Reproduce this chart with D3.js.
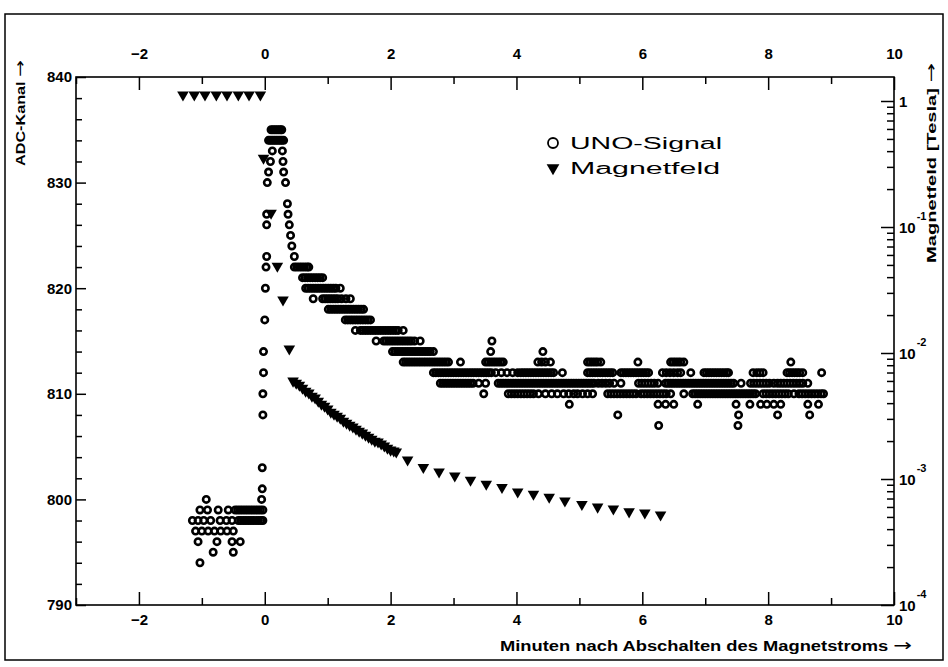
<!DOCTYPE html>
<html>
<head>
<meta charset="utf-8">
<script src="https://cdn.jsdelivr.net/npm/d3@7"></script>
<style>
  body { margin: 0; background: #fff; }
  text { font-family: "Liberation Sans", Arial, sans-serif; fill: #000; }
  .axis text { font-size: 15px; font-weight: bold; }
  .axis line { stroke: #000; stroke-width: 1.5; }
  .arrow { font-family: "DejaVu Sans", sans-serif; font-weight: normal; }
</style>
</head>
<body>
<div id="chart"></div>
<script>
// Data

var timeTicks = [-2, 0, 2, 4, 6, 8, 10];
var adcTicks = [790, 800, 810, 820, 830, 840];
var teslaTicks = [1e-4, 1e-3, 1e-2, 1e-1, 1];
var teslaExp = ["-4", "-3", "-2", "-1", ""];

// UNO-Signal: ADC channel -> times (minutes) at which that channel was read
var unoRows = [
  [835, [0.10, 0.13, 0.16, 0.19, 0.22, 0.25, 0.27]],
  [834, [0.06, 0.09, 0.12, 0.15, 0.18, 0.21, 0.24, 0.27, 0.30]],
  [833, [0.12, 0.28]],
  [832, [0.09, 0.29]],
  [831, [0.06, 0.30]],
  [830, [0.04, 0.33]],
  [828, [0.36]],
  [827, [0.03, 0.37]],
  [826, [0.03, 0.39]],
  [825, [0.41]],
  [824, [0.43]],
  [823, [0.03, 0.47]],
  [822, [0.02, 0.47, 0.51, 0.55, 0.59, 0.63, 0.67, 0.70]],
  [821, [0.60, 0.64, 0.68, 0.72, 0.76, 0.80, 0.84, 0.88, 0.92]],
  [820, [0.01, 0.65, 0.69, 0.73, 0.77, 0.81, 0.85, 0.89, 0.93, 0.97, 1.01, 1.05, 1.09, 1.13, 1.20]],
  [819, [0.77, 0.92, 0.96, 1.00, 1.04, 1.08, 1.12, 1.16, 1.22, 1.29, 1.36]],
  [818, [1.01, 1.05, 1.09, 1.13, 1.17, 1.21, 1.25, 1.29, 1.33, 1.37, 1.41, 1.45, 1.49, 1.53, 1.57]],
  [817, [0.00, 1.28, 1.32, 1.36, 1.40, 1.44, 1.48, 1.52, 1.56, 1.60, 1.64, 1.68]],
  [816, [1.44, 1.52, 1.56, 1.60, 1.64, 1.68, 1.72, 1.76, 1.80, 1.84, 1.88, 1.92, 1.96, 2.00,
         2.04, 2.08, 2.12, 2.20]],
  [815, [1.77, 1.89, 1.93, 1.97, 2.01, 2.05, 2.09, 2.13, 2.17, 2.21, 2.25, 2.29, 2.33, 2.38,
         2.47, 3.61]],
  [814, [-0.02, 2.03, 2.07, 2.11, 2.15, 2.19, 2.23, 2.27, 2.31, 2.35, 2.39, 2.43, 2.47, 2.51,
         2.55, 2.59, 2.63, 2.68, 3.59, 4.42]],
  [813, [2.20, 2.24, 2.28, 2.32, 2.36, 2.40, 2.44, 2.48, 2.52, 2.56, 2.60, 2.64, 2.68, 2.72,
         2.76, 2.80, 2.84, 2.88, 2.92, 3.11, 3.51, 3.55, 3.59, 3.63, 3.67, 3.71, 3.75, 3.79,
         4.34, 4.40, 4.46, 4.54, 5.13, 5.17, 5.21, 5.25, 5.29, 5.34, 5.93, 6.45, 6.49, 6.53,
         6.57, 6.61, 6.66, 8.36]],
  [812, [-0.02, 2.68, 2.72, 2.76, 2.80, 2.84, 2.88, 2.92, 2.96, 3.00, 3.04, 3.08, 3.12, 3.16,
         3.20, 3.24, 3.28, 3.32, 3.36, 3.40, 3.44, 3.48, 3.52, 3.56, 3.60, 3.67, 3.76, 3.85,
         3.94, 4.02, 4.07, 4.11, 4.15, 4.19, 4.23, 4.27, 4.31, 4.35, 4.39, 4.43, 4.47, 4.51,
         4.55, 4.59, 4.73, 5.13, 5.17, 5.21, 5.25, 5.29, 5.33, 5.37, 5.41, 5.45, 5.49, 5.53,
         5.66, 5.70, 5.74, 5.78, 5.82, 5.86, 5.90, 5.94, 5.98, 6.02, 6.06, 6.10, 6.32, 6.38,
         6.44, 6.50, 6.56, 6.61, 6.77, 6.98, 7.02, 7.06, 7.10, 7.14, 7.18, 7.22, 7.26, 7.30,
         7.34, 7.37, 7.76, 7.82, 7.87, 7.92, 8.30, 8.34, 8.38, 8.42, 8.46, 8.50, 8.55, 8.85]],
  [811, [2.79, 2.83, 2.87, 2.91, 2.95, 2.99, 3.03, 3.07, 3.11, 3.15, 3.19, 3.23, 3.27, 3.31,
         3.40, 3.51, 3.71, 3.75, 3.79, 3.83, 3.87, 3.91, 3.95, 3.99, 4.03, 4.07, 4.11, 4.15,
         4.19, 4.23, 4.27, 4.31, 4.35, 4.39, 4.43, 4.47, 4.51, 4.55, 4.59, 4.63, 4.67, 4.71,
         4.75, 4.79, 4.83, 4.87, 4.91, 4.95, 4.99, 5.03, 5.07, 5.11, 5.15, 5.19, 5.23, 5.30,
         5.36, 5.42, 5.48, 5.55, 5.66, 5.94, 5.99, 6.04, 6.09, 6.14, 6.19, 6.25, 6.37, 6.41,
         6.45, 6.49, 6.53, 6.57, 6.61, 6.65, 6.69, 6.73, 6.77, 6.81, 6.85, 6.89, 6.93, 6.97,
         7.01, 7.05, 7.09, 7.13, 7.17, 7.21, 7.25, 7.29, 7.33, 7.37, 7.41, 7.45, 7.57, 7.72,
         7.77, 7.82, 7.87, 7.92, 7.97, 8.02, 8.09, 8.15, 8.20, 8.25, 8.30, 8.35, 8.40, 8.45,
         8.50, 8.55, 8.63]],
  [810, [-0.03, 3.48, 3.87, 3.92, 3.97, 4.02, 4.07, 4.12, 4.17, 4.22, 4.27, 4.35, 4.46, 4.56,
         4.65, 4.75, 4.83, 4.91, 4.97, 5.05, 5.13, 5.21, 5.45, 5.50, 5.55, 5.60, 5.65, 5.70,
         5.75, 5.80, 5.85, 5.90, 5.98, 6.03, 6.08, 6.13, 6.18, 6.23, 6.28, 6.33, 6.38, 6.45,
         6.66, 6.80, 6.84, 6.88, 6.92, 6.96, 7.00, 7.04, 7.08, 7.12, 7.16, 7.20, 7.24, 7.28,
         7.32, 7.36, 7.40, 7.44, 7.48, 7.52, 7.56, 7.60, 7.64, 7.68, 7.72, 7.76, 7.80, 7.92,
         7.97, 8.02, 8.07, 8.12, 8.17, 8.22, 8.27, 8.32, 8.41, 8.49, 8.54, 8.59, 8.64, 8.69,
         8.74, 8.79, 8.84, 8.88]],
  [809, [4.84, 6.25, 6.37, 6.50, 6.88, 7.49, 7.71, 7.88, 7.98, 8.09, 8.20, 8.63, 8.80]],
  [808, [-0.03, 5.61, 7.53, 8.15, 8.66]],
  [807, [6.26, 7.52]],
  [803, [-0.04]],
  [801, [-0.04]],
  [800, [-0.93, -0.05]],
  [799, [-1.03, -0.91, -0.74, -0.58, -0.47, -0.43, -0.39, -0.35, -0.31, -0.27, -0.23, -0.19,
         -0.15, -0.11, -0.07, -0.03]],
  [798, [-1.15, -1.06, -0.97, -0.86, -0.71, -0.61, -0.52, -0.42, -0.38, -0.34, -0.30, -0.26,
         -0.22, -0.18, -0.14, -0.10, -0.06, -0.03]],
  [797, [-1.10, -1.00, -0.90, -0.80, -0.70, -0.60, -0.50]],
  [796, [-1.06, -0.76, -0.52, -0.39]],
  [795, [-0.82, -0.50]],
  [794, [-1.03]]
];

// Magnetfeld (Tesla) against time (minutes)
var fieldTime = [-1.30, -1.12, -0.95, -0.77, -0.60, -0.42, -0.25, -0.07,
  -0.02, 0.10, 0.20, 0.29, 0.39,
  0.45, 0.50, 0.55, 0.60, 0.65, 0.70, 0.75, 0.80, 0.85, 0.90, 0.95, 1.00,
  1.05, 1.10, 1.15, 1.20, 1.25, 1.30, 1.35, 1.40, 1.45, 1.50, 1.55, 1.60,
  1.65, 1.70, 1.75, 1.80, 1.85, 1.90, 1.95, 2.00, 2.05, 2.09,
  2.27, 2.52, 2.77, 3.02, 3.27, 3.52, 3.77, 4.02, 4.27, 4.52, 4.77, 5.04,
  5.29, 5.54, 5.79, 6.04, 6.29];
var fieldTesla = [1.12, 1.12, 1.12, 1.12, 1.12, 1.12, 1.12, 1.12,
  0.353, 0.129, 0.049, 0.0264, 0.0108,
  0.00600, 0.00578, 0.00557, 0.00527, 0.00499, 0.00482, 0.00456, 0.00440, 0.00416, 0.00394, 0.00379, 0.00360,
  0.00340, 0.00328, 0.00316, 0.00305, 0.00288, 0.00278, 0.00268, 0.00259, 0.00249, 0.00240, 0.00232, 0.00223,
  0.00215, 0.00207, 0.00200, 0.00197, 0.00190, 0.00183, 0.00176, 0.00170, 0.00167, 0.00164,
  0.00142, 0.00124, 0.00114, 0.00106, 0.00098, 0.00091, 0.00086, 0.00079, 0.00076, 0.00072, 0.00067, 0.00063,
  0.00060, 0.00058, 0.00055, 0.00054, 0.00052];

// Layout

var width = 948, height = 667;
var plot = {left: 76, right: 894, top: 77, bottom: 605};

var svg = d3.select("#chart")
  .append("svg")
  .attr("width", width)
  .attr("height", height);

// outer border of the figure
svg.append("rect")
  .attr("x", 5).attr("y", 14)
  .attr("width", 938).attr("height", 646)
  .attr("fill", "none").attr("stroke", "#000").attr("stroke-width", 1.5);

// Scales

var x = d3.scaleLinear().domain([-3, 10]).range([plot.left, plot.right]);
var yAdc = d3.scaleLinear().domain([790, 840]).range([plot.bottom, plot.top]);
var yTesla = d3.scaleLog()
  .domain([1e-4, Math.pow(10, 4 * (plot.bottom - plot.top) / 504 - 4)])
  .range([plot.bottom, plot.top]);

var minorTime = d3.range(-3, 10.5, 1).filter(d => timeTicks.indexOf(d) < 0);
var minorAdc = d3.range(790, 841, 2).filter(d => adcTicks.indexOf(d) < 0);
var minorTesla = [];
[1e-4, 1e-3, 1e-2, 1e-1, 1].forEach(function(dec) {
  for (var k = 2; k <= 9; k++) {
    if (dec * k < yTesla.domain()[1]) minorTesla.push(dec * k);
  }
});

// Axes

function clean(g) { g.select(".domain").remove(); }

svg.append("g").attr("class", "axis")
  .attr("transform", `translate(0, ${plot.bottom})`)
  .call(d3.axisBottom(x).tickValues(timeTicks).tickSizeInner(-13).tickSizeOuter(0).tickPadding(9))
  .call(clean);
svg.append("g").attr("class", "axis")
  .attr("transform", `translate(0, ${plot.bottom})`)
  .call(d3.axisBottom(x).tickValues(minorTime).tickSizeInner(-7).tickFormat(""))
  .call(clean);

svg.append("g").attr("class", "axis")
  .attr("transform", `translate(0, ${plot.top})`)
  .call(d3.axisTop(x).tickValues(timeTicks).tickSizeInner(-13).tickSizeOuter(0).tickPadding(18))
  .call(clean);
svg.append("g").attr("class", "axis")
  .attr("transform", `translate(0, ${plot.top})`)
  .call(d3.axisTop(x).tickValues(minorTime).tickSizeInner(-7).tickFormat(""))
  .call(clean);

svg.append("g").attr("class", "axis")
  .attr("transform", `translate(${plot.left}, 0)`)
  .call(d3.axisLeft(yAdc).tickValues(adcTicks).tickSizeInner(-10).tickSizeOuter(0).tickPadding(4))
  .call(clean);
svg.append("g").attr("class", "axis")
  .attr("transform", `translate(${plot.left}, 0)`)
  .call(d3.axisLeft(yAdc).tickValues(minorAdc).tickSizeInner(-6).tickFormat(""))
  .call(clean);

svg.append("g").attr("class", "axis")
  .attr("transform", `translate(${plot.right}, 0)`)
  .call(d3.axisRight(yTesla).tickValues(teslaTicks).tickSizeInner(-13).tickSizeOuter(0).tickFormat(""))
  .call(clean);
svg.append("g").attr("class", "axis")
  .attr("transform", `translate(${plot.right}, 0)`)
  .call(d3.axisRight(yTesla).tickValues(minorTesla).tickSizeInner(-7).tickFormat(""))
  .call(clean);

// right labels: 1, 10^-1 ... 10^-4
var rl = svg.append("g").attr("class", "axis");
teslaTicks.forEach(function(v, i) {
  var t = rl.append("text")
    .attr("x", plot.right + 5)
    .attr("y", yTesla(v) + 6);
  if (v === 1) {
    t.text("1");
  } else {
    t.text("10");
    t.append("tspan").attr("dy", -13).attr("dx", 1).style("font-size", "11px").text(teslaExp[i]);
  }
});

// frame
svg.append("rect")
  .attr("x", plot.left).attr("y", plot.top)
  .attr("width", plot.right - plot.left).attr("height", plot.bottom - plot.top)
  .attr("fill", "none").attr("stroke", "#000").attr("stroke-width", 1.6);

// Titles

var yt = svg.append("text")
  .attr("transform", "translate(25, 166) rotate(-90)")
  .attr("textLength", 106).attr("lengthAdjust", "spacingAndGlyphs")
  .style("font-size", "12px").style("font-weight", "bold")
  .text("ADC-Kanal ");
yt.append("tspan").attr("class", "arrow").style("font-size", "15px").text("\u2192");

var rt = svg.append("text")
  .attr("transform", "translate(936, 263) rotate(-90)")
  .attr("textLength", 200).attr("lengthAdjust", "spacingAndGlyphs")
  .style("font-size", "13px").style("font-weight", "bold")
  .text("Magnetfeld [Tesla] ");
rt.append("tspan").attr("class", "arrow").style("font-size", "15px").text("\u2192");

var xt = svg.append("text")
  .attr("x", 500).attr("y", 651)
  .attr("textLength", 412).attr("lengthAdjust", "spacingAndGlyphs")
  .style("font-size", "14px").style("font-weight", "bold")
  .text("Minuten nach Abschalten des Magnetstroms ");
xt.append("tspan").attr("class", "arrow").style("font-size", "17px").text("\u2192");

// Data marks

var unoPoints = [];
unoRows.forEach(function(r) {
  r[1].forEach(function(t) { unoPoints.push({t: t, adc: r[0]}); });
});

var fieldPoints = fieldTime.map((t, i) => ({t: t, b: fieldTesla[i]}));

var tri = d3.symbol().type(d3.symbolTriangle).size(58);

svg.append("g").selectAll("path")
  .data(fieldPoints)
  .enter().append("path")
  .attr("d", tri)
  .attr("transform", d => `translate(${x(d.t)}, ${yTesla(d.b)}) rotate(180)`)
  .attr("fill", "#000");

svg.append("g").selectAll("circle")
  .data(unoPoints)
  .enter().append("circle")
  .attr("cx", d => x(d.t))
  .attr("cy", d => yAdc(d.adc))
  .attr("r", 3.2)
  .attr("fill", "none")
  .attr("stroke", "#000")
  .attr("stroke-width", 2.6);

// Legend

svg.append("circle")
  .attr("cx", 553).attr("cy", 143).attr("r", 5)
  .attr("fill", "none").attr("stroke", "#000").attr("stroke-width", 1.8);
svg.append("path")
  .attr("d", d3.symbol().type(d3.symbolTriangle).size(70))
  .attr("transform", "translate(553, 168) rotate(180)");
svg.append("text")
  .attr("x", 570).attr("y", 149)
  .attr("textLength", 152).attr("lengthAdjust", "spacingAndGlyphs")
  .style("font-size", "16px")
  .text("UNO-Signal");
svg.append("text")
  .attr("x", 570).attr("y", 174)
  .attr("textLength", 150).attr("lengthAdjust", "spacingAndGlyphs")
  .style("font-size", "16px")
  .text("Magnetfeld");
</script>
</body>
</html>
